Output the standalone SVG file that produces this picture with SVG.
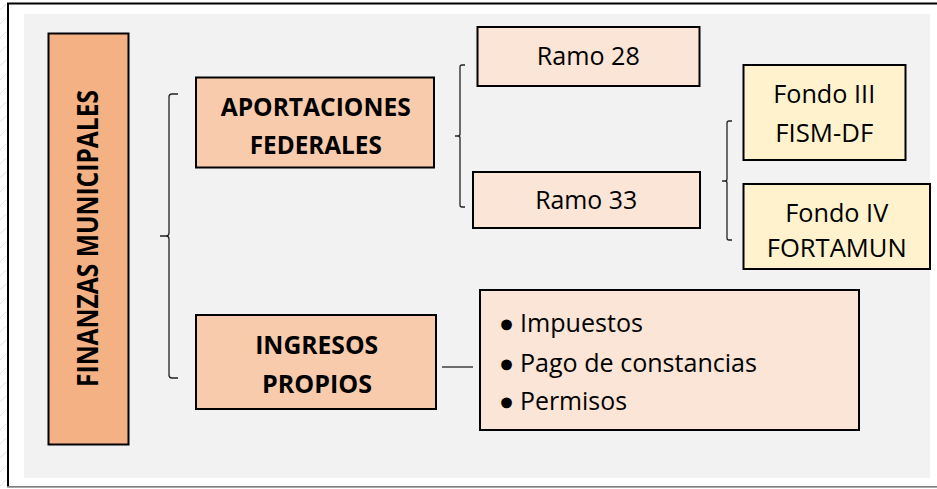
<svg xmlns="http://www.w3.org/2000/svg" width="937" height="489" viewBox="0 0 937 489">
  <defs>
    <pattern id="hatch" width="8" height="14" patternUnits="userSpaceOnUse">
      <line x1="0" y1="10" x2="6" y2="4" stroke="#e2e2e2" stroke-width="1"/>
    </pattern>
  </defs>
  <style>
    .box { stroke: #000; stroke-width: 2; }
    .b1 { fill: #f4b183; }
    .b2 { fill: #f8cbad; }
    .b3 { fill: #fbe5d6; }
    .b4 { fill: #fff2cc; }
    .t { font-family: "Open Sans", "Liberation Sans", sans-serif; font-size: 25px; fill: #000; }
    .tb { font-family: "Open Sans", "Liberation Sans", sans-serif; font-size: 25px; font-weight: bold; fill: #000; }
    .bul { font-family: "DejaVu Sans", sans-serif; font-size: 28px; fill: #000; stroke: #000; stroke-width: 2.6; text-anchor: middle; }
    .c { text-anchor: middle; }
    .br { fill: none; stroke: #222; stroke-width: 1.3; }
  </style>
  <rect x="0" y="0" width="937" height="489" fill="#fff"/>
  <rect x="0" y="0" width="7" height="489" fill="url(#hatch)"/>
  <!-- frame -->
  <line x1="7" y1="3.5" x2="937" y2="3.5" stroke="#000" stroke-width="2.2"/>
  <line x1="8" y1="3" x2="8" y2="486" stroke="#000" stroke-width="2"/>
  <line x1="7" y1="486.8" x2="937" y2="486.8" stroke="#555" stroke-width="1.3"/>
  <rect x="24" y="14" width="906" height="464" fill="#f2f2f2"/>

  <g id="connectors">
    <path class="br" d="M178,94 L172,94 Q169,94 169,97 L169,233 Q169,236 166,236 L160,236 M166,236 Q169,236 169,239 L169,375 Q169,378 172,378 L178,378"/>
    <path class="br" d="M465,65 L462,65 Q460,65 460,67 L460,134 Q460,136 458,136 L455,136 M458,136 Q460,136 460,138 L460,205 Q460,207 462,207 L465,207"/>
    <path class="br" d="M732,121 L729,121 Q727,121 727,123 L727,179 Q727,181 725,181 L722,181 M725,181 Q727,181 727,183 L727,238 Q727,240 729,240 L732,240"/>
    <line class="br" x1="442" y1="367" x2="473" y2="367"/>
  </g>

  <g id="finanzas">
    <rect class="box b1" x="48.5" y="33.5" width="80" height="411"/>
    <text class="tb c" style="font-size:28px" transform="translate(98.3,238.5) rotate(-90)" x="0" y="0" textLength="297" lengthAdjust="spacingAndGlyphs">FINANZAS MUNICIPALES</text>
  </g>

  <g id="aportaciones">
    <rect class="box b2" x="196" y="77.5" width="238" height="90"/>
    <text class="tb c" x="315.7" y="116" textLength="190" lengthAdjust="spacingAndGlyphs">APORTACIONES</text>
    <text class="tb c" x="315.8" y="154" textLength="132" lengthAdjust="spacingAndGlyphs">FEDERALES</text>
  </g>

  <g id="ingresos">
    <rect class="box b2" x="196" y="315" width="240" height="94"/>
    <text class="tb c" x="316.7" y="354" textLength="123" lengthAdjust="spacingAndGlyphs">INGRESOS</text>
    <text class="tb c" x="317" y="393" textLength="110" lengthAdjust="spacingAndGlyphs">PROPIOS</text>
  </g>

  <g id="ramo28">
    <rect class="box b3" x="477.5" y="27" width="222" height="59"/>
    <text class="t c" x="588.3" y="65" textLength="103" lengthAdjust="spacingAndGlyphs">Ramo 28</text>
  </g>

  <g id="ramo33">
    <rect class="box b3" x="473" y="172" width="227" height="56"/>
    <text class="t c" x="586.2" y="209.3" textLength="102" lengthAdjust="spacingAndGlyphs">Ramo 33</text>
  </g>

  <g id="fondo3">
    <rect class="box b4" x="743.5" y="65" width="162" height="95"/>
    <text class="t c" x="824.2" y="103.3" textLength="102" lengthAdjust="spacingAndGlyphs">Fondo III</text>
    <text class="t c" x="824.2" y="141.7" textLength="98" lengthAdjust="spacingAndGlyphs">FISM-DF</text>
  </g>

  <g id="fondo4">
    <rect class="box b4" x="743.5" y="184" width="186.5" height="85"/>
    <text class="t c" x="836.7" y="221.7" textLength="103" lengthAdjust="spacingAndGlyphs">Fondo IV</text>
    <text class="t c" x="836.7" y="256.7" textLength="140" lengthAdjust="spacingAndGlyphs">FORTAMUN</text>
  </g>

  <g id="ingresos-lista">
    <rect class="box b3" x="480" y="290" width="379" height="140"/>
    <text class="bul" x="506.5" y="335">•</text>
    <text class="t" x="520" y="332" textLength="123" lengthAdjust="spacingAndGlyphs">Impuestos</text>
    <text class="bul" x="506.5" y="374.5">•</text>
    <text class="t" x="520" y="371.5" textLength="237" lengthAdjust="spacingAndGlyphs">Pago de constancias</text>
    <text class="bul" x="506.5" y="413">•</text>
    <text class="t" x="520" y="410" textLength="107" lengthAdjust="spacingAndGlyphs">Permisos</text>
  </g>
</svg>
